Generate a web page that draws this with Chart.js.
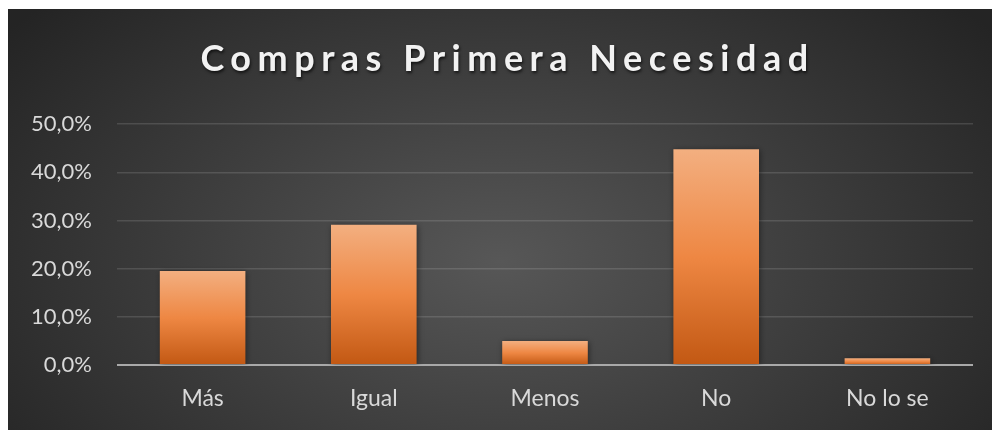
<!DOCTYPE html>
<html>
<head>
<meta charset="utf-8">
<script src="https://cdn.jsdelivr.net/npm/chart.js@4"></script>
<style>
  html, body { margin: 0; padding: 0; background: #ffffff; width: 992px; height: 430px; overflow: hidden; }
  #wrap { position: absolute; left: 8px; top: 9px; width: 984px; height: 421px; background: #333; }
</style>
</head>
<body>
<div id="wrap"><canvas id="c" width="984" height="421"></canvas></div>
<script>
const titleText = 'Compras Primera Necesidad';
const categories = ['Más', 'Igual', 'Menos', 'No', 'No lo se'];
const values = [19.5, 29.1, 5.0, 44.8, 1.4];
const yTicks = [0, 10, 20, 30, 40, 50];

const FONT = 'Lato, "Open Sans", sans-serif';

const bgPlugin = {
  id: 'bg',
  beforeDraw(chart) {
    const { ctx, width, height } = chart;
    ctx.save();
    ctx.translate(width * 0.5, height * 0.6);
    ctx.scale(1, 380 / 620);
    const g = ctx.createRadialGradient(0, 0, 0, 0, 0, 620);
    g.addColorStop(0, '#575757');
    g.addColorStop(1, '#242424');
    ctx.fillStyle = g;
    ctx.fillRect(-width, -height * 2, width * 2, height * 4);
    ctx.restore();

    const tb = chart.titleBlock;
    if (tb && !tb._patched) {
      const orig = tb.draw;
      tb.draw = function () {
        const c = this.ctx;
        c.save();
        c.translate(17, 0);
        c.letterSpacing = '6.5px';
        c.shadowColor = 'rgba(0,0,0,0.65)';
        c.shadowOffsetX = 1;
        c.shadowOffsetY = 2;
        c.shadowBlur = 3;
        orig.apply(this, arguments);
        c.restore();
      };
      tb._patched = true;
    }
  },
  beforeDatasetsDraw(chart) {
    const ctx = chart.ctx;
    ctx.save();
    ctx.shadowColor = 'rgba(0,0,0,0.45)';
    ctx.shadowBlur = 6;
    ctx.shadowOffsetX = 1;
    ctx.shadowOffsetY = 1;
  },
  afterDatasetsDraw(chart) {
    chart.ctx.restore();
  }
};

new Chart(document.getElementById('c'), {
  type: 'bar',
  data: {
    labels: categories,
    datasets: [{
      data: values,
      barPercentage: 1,
      categoryPercentage: 0.5,
      borderWidth: 0,
      backgroundColor: (c) => {
        const chart = c.chart;
        const { ctx, chartArea, scales } = chart;
        if (!chartArea || c.type !== 'data') return '#ed7d31';
        const top = scales.y.getPixelForValue(c.raw);
        const base = scales.y.getPixelForValue(0);
        const g = ctx.createLinearGradient(0, top, 0, base);
        g.addColorStop(0, '#f3af80');
        g.addColorStop(0.5, '#ee8743');
        g.addColorStop(1, '#c25813');
        return g;
      }
    }]
  },
  options: {
    responsive: false,
    animation: false,
    devicePixelRatio: 1,
    layout: { padding: { left: 0, right: 19, top: 29, bottom: 13 } },
    plugins: {
      legend: { display: false },
      tooltip: { enabled: false },
      title: {
        display: true,
        text: titleText,
        color: '#f2f2f2',
        font: { family: FONT, size: 36, weight: 'bold', lineHeight: 1.2 },
        padding: { top: 0, bottom: 43 }
      }
    },
    scales: {
      x: {
        afterFit(scale) { scale.height = 52; },
        grid: { display: false, drawTicks: false },
        border: { display: false },
        ticks: {
          color: '#d9d9d9',
          padding: 20,
          font: { family: FONT, size: 23 }
        }
      },
      y: {
        min: 0,
        max: 50,
        afterFit(scale) { scale.width = 109; },
        afterBuildTicks(scale) { scale.ticks = yTicks.map(v => ({ value: v })); },
        grid: {
          drawTicks: false,
          color: (c) => c.tick && c.tick.value === 0 ? '#a9a9a9' : 'rgba(255,255,255,0.13)',
          lineWidth: (c) => c.tick && c.tick.value === 0 ? 2 : 1.5
        },
        border: { display: false },
        ticks: {
          color: '#d9d9d9',
          padding: 25,
          font: { family: FONT, size: 22 },
          callback: (v) => v.toFixed(1).replace('.', ',') + '%'
        }
      }
    }
  },
  plugins: [bgPlugin]
});
</script>
</body>
</html>
